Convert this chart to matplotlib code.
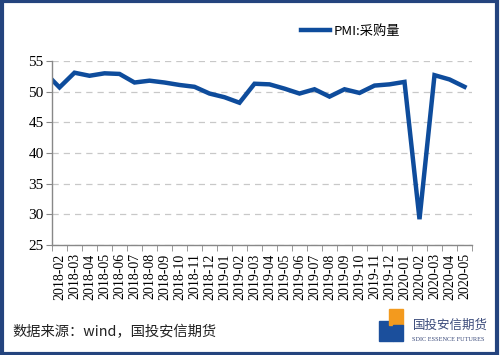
import numpy as np
import matplotlib.pyplot as plt
from matplotlib.patches import Rectangle

# monthly PMI purchase quantity, first value (2018-01) is only partly visible
months = ["2018-02", "2018-03", "2018-04", "2018-05", "2018-06", "2018-07",
          "2018-08", "2018-09", "2018-10", "2018-11", "2018-12",
          "2019-01", "2019-02", "2019-03", "2019-04", "2019-05", "2019-06",
          "2019-07", "2019-08", "2019-09", "2019-10", "2019-11", "2019-12",
          "2020-01", "2020-02", "2020-03", "2020-04", "2020-05"]
pmi_jan2018 = 53.2
pmi_purchase = [50.7, 53.1, 52.6, 53.0, 52.9, 51.5, 51.8, 51.5, 51.1, 50.8,
                49.7, 49.1, 48.2, 51.3, 51.2, 50.5, 49.7, 50.4, 49.2, 50.4,
                49.8, 51.0, 51.2, 51.6, 29.2, 52.7, 52.0, 50.8]

plt.rcParams['font.family'] = ['Liberation Serif']

fig = plt.figure(figsize=(5, 3.55), dpi=100)
ax = fig.add_axes([0.104, 0.31, 0.84, 0.518])

x = np.arange(-1, len(months))
y = [pmi_jan2018] + pmi_purchase
ax.plot(x, y, color="#0e4c9c", lw=3.2, solid_joinstyle="miter", label="PMI:采购量")

ax.set_xlim(-0.5, len(months) - 0.5)
ax.set_ylim(25, 55)
ax.set_yticks(range(25, 56, 5))
ax.set_xticks(np.arange(len(months)))
ax.set_xticklabels(months, rotation=90, fontsize=10)
ax.set_xticks(np.arange(-0.5, len(months)), minor=True)
ax.tick_params(axis="x", which="major", length=0, pad=6)
ax.tick_params(axis="x", which="minor", length=4, color="#888888", direction="out")
ax.tick_params(axis="y", length=4, color="#888888", labelsize=11, pad=2)

for s in ["top", "right"]:
    ax.spines[s].set_visible(False)
for s in ["left", "bottom"]:
    ax.spines[s].set_color("#888888")
    ax.spines[s].set_linewidth(1.0)

ax.grid(axis="y", color="#c8c8c8", linestyle=(0, (5, 4)), lw=0.9)
ax.set_axisbelow(True)

leg = fig.legend(loc="center left", bbox_to_anchor=(0.578, 0.912), frameon=False,
                 handlelength=2.2, handletextpad=0.3,
                 prop={"family": ["Noto Sans CJK SC"], "size": 9.5, "style": "italic"})

fig.text(0.024, 0.065, "数据来源：wind，国投安信期货", fontsize=10.3,
         family=["Noto Sans CJK SC"], color="#222222", va="center")

# logo
fig.patches.append(Rectangle((0.757, 0.04), 0.028, 0.055, color="#1b4f9c",
                             transform=fig.transFigure))
fig.patches.append(Rectangle((0.778, 0.085), 0.028, 0.045, color="#f39a1e",
                             transform=fig.transFigure))
fig.patches.append(Rectangle((0.785, 0.04), 0.02, 0.045, color="#1b4f9c",
                             transform=fig.transFigure))
fig.text(0.825, 0.085, "国投安信期货", fontsize=9, family=["Noto Sans CJK SC"],
         color="#3a4a7a", va="center")
fig.text(0.825, 0.045, "SDIC ESSENCE FUTURES", fontsize=4.5, family=["Liberation Serif"],
         color="#3a4a7a", va="center")

# navy frame around the picture
fig.patches.append(Rectangle((0.003, 0.004), 0.991, 0.992, fill=False,
                             edgecolor="#24447e", lw=3, transform=fig.transFigure))

fig.savefig("out.png", dpi=100)
